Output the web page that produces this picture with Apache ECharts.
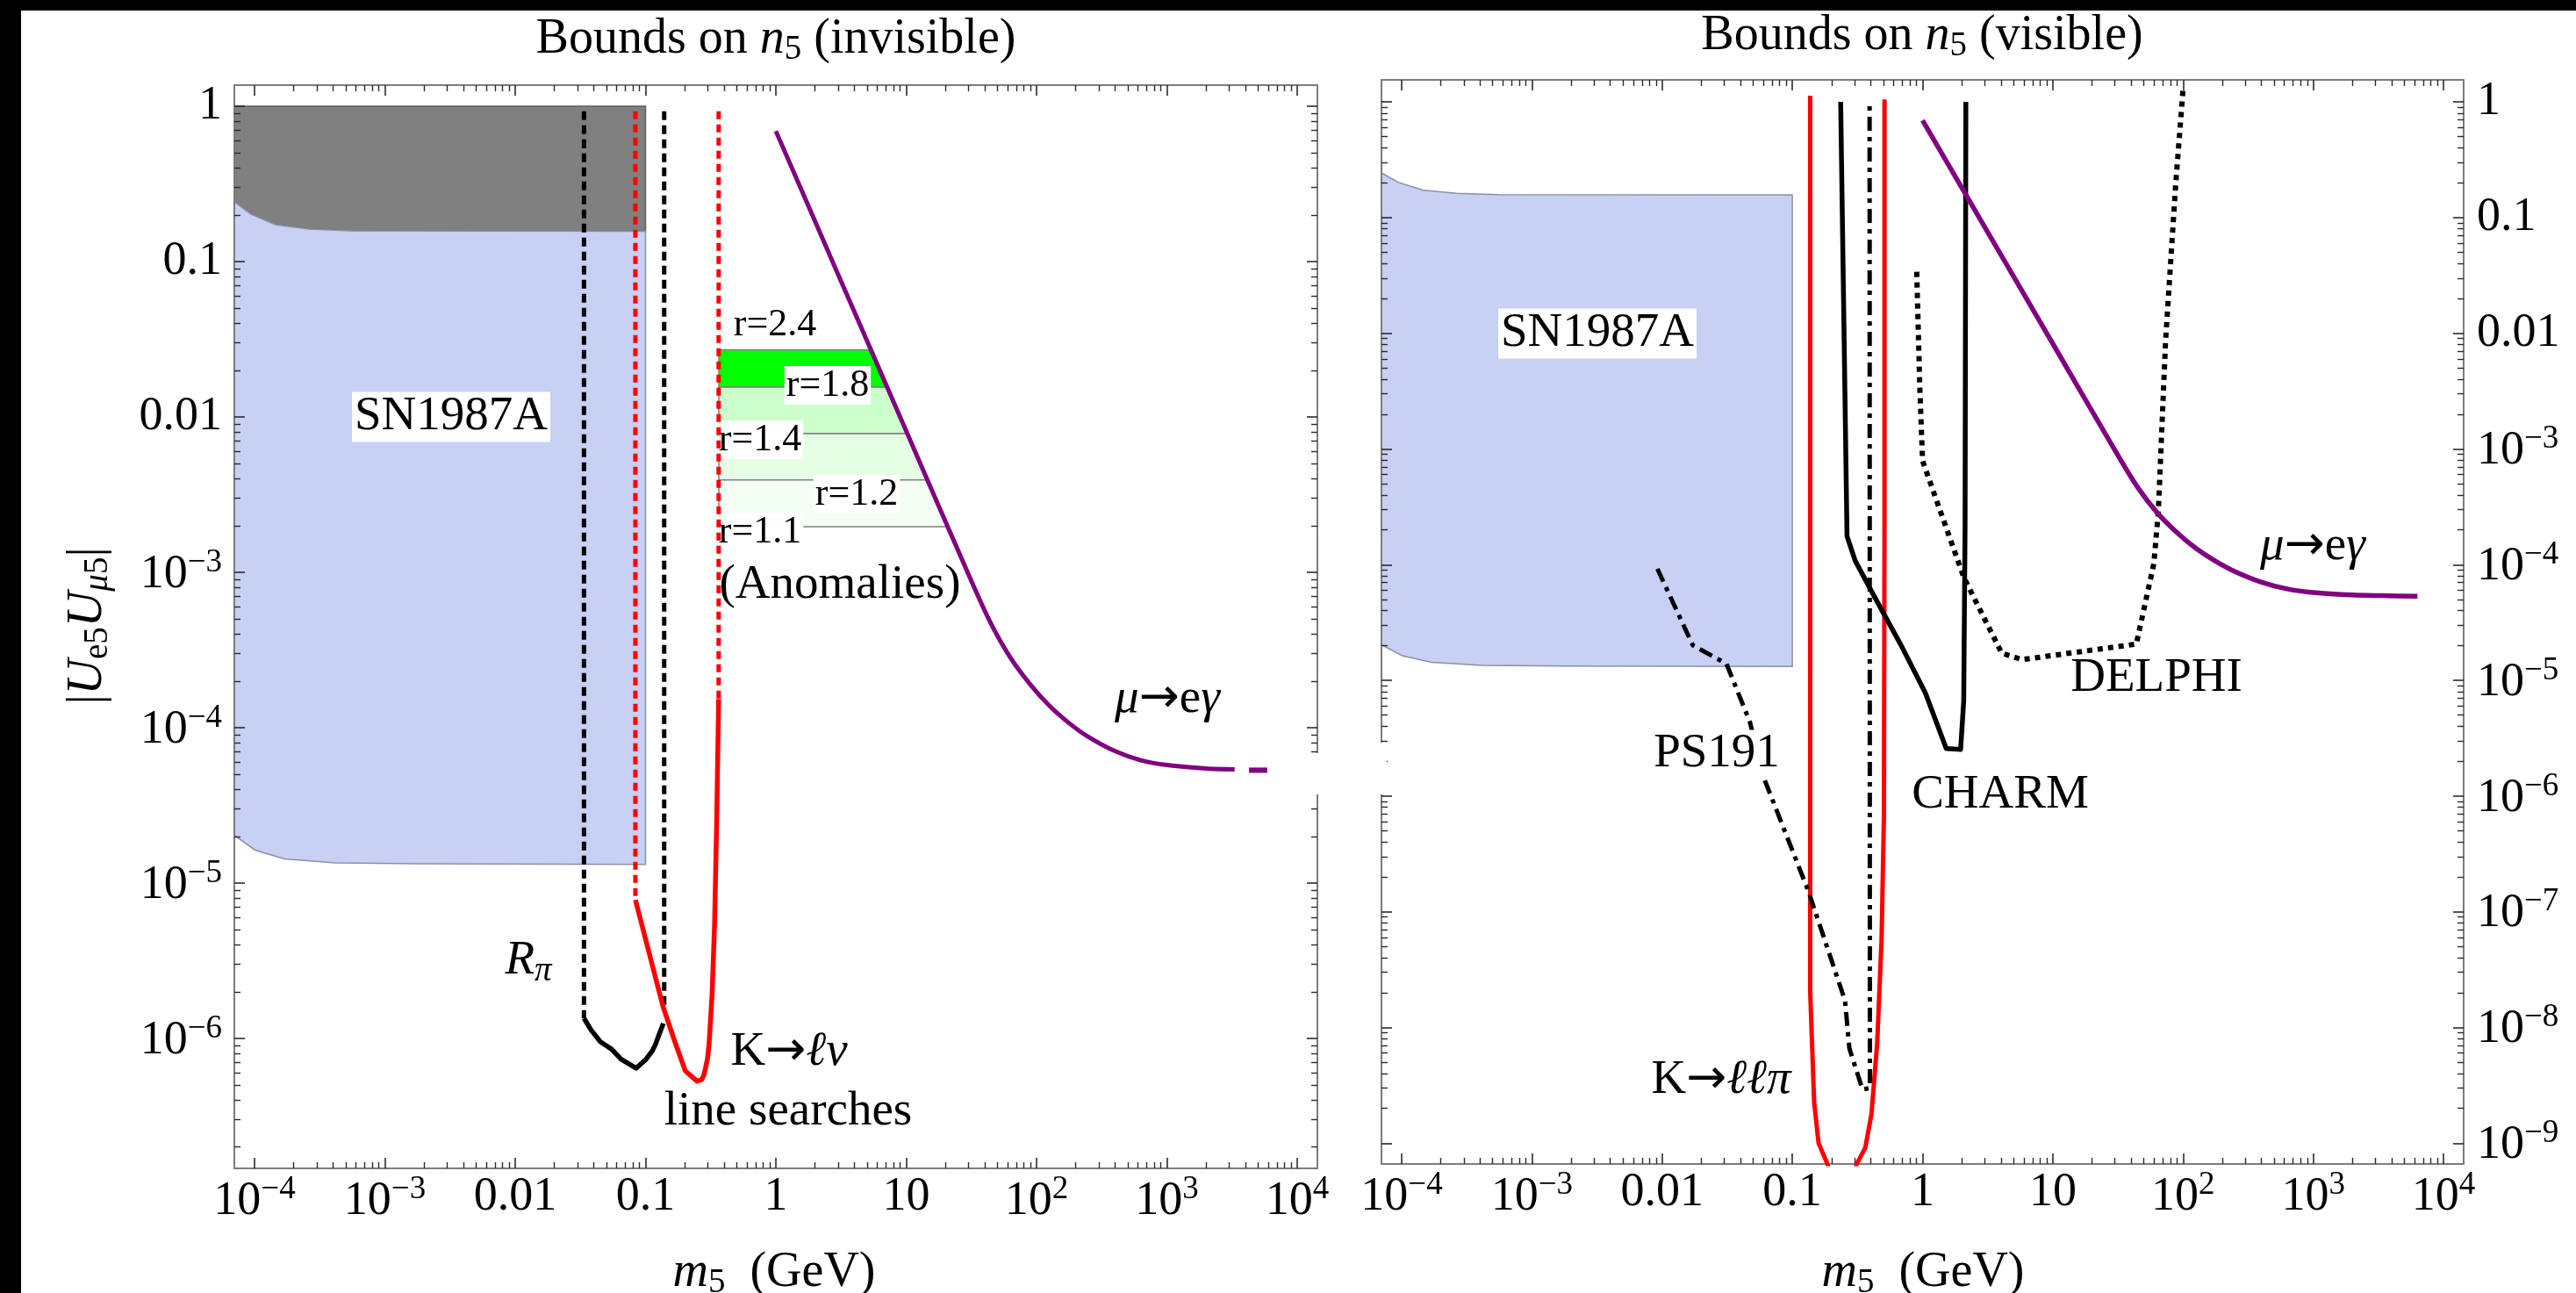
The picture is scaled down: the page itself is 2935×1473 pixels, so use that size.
<!DOCTYPE html>
<html>
<head>
<meta charset="utf-8">
<title>Bounds on n5</title>
<script src="https://cdn.jsdelivr.net/npm/echarts@6/dist/echarts.min.js"></script>
<style>
  html, body { margin: 0; padding: 0; background: #fff; }
  #chart { width: 2935px; height: 1473px; }
</style>
</head>
<body>
<div id="chart"></div>
<script>
// ---------------- tick values ----------------
const massTicks = [1e-4, 1e-3, 0.01, 0.1, 1, 10, 100, 1e3, 1e4];
const mixTicksInvisible = [1e-6, 1e-5, 1e-4, 1e-3, 0.01, 0.1, 1];
const mixTicksVisible = [1e-9, 1e-8, 1e-7, 1e-6, 1e-5, 1e-4, 1e-3, 0.01, 0.1, 1];

// ---------------- SN1987A excluded band (both panels) ----------------
const snUpperMass = [7.0e-5, 9.4e-5, 1.45e-4, 2.63e-4, 5.5e-4, 0.1];
const snUpperMix  = [0.243, 0.202, 0.173, 0.162, 0.158, 0.157];
const snLowerMass = [7.0e-5, 1.01e-4, 1.70e-4, 4.15e-4, 1.83e-3, 0.1];
const snLowerMix  = [2.03e-5, 1.63e-5, 1.43e-5, 1.35e-5, 1.33e-5, 1.32e-5];
const grayTopMix = 1;

// ---------------- mu -> e gamma ----------------
const megMass = [1, 3.16, 10, 31.6, 44.7, 63.1, 89.1, 126, 178, 251, 398, 631, 1000, 2000, 3310, 6310];
const megMix  = [0.692, 0.0750, 8.13e-3, 8.81e-4, 4.68e-4, 2.82e-4, 1.91e-4, 1.38e-4, 1.07e-4,
                 8.71e-5, 7.08e-5, 6.17e-5, 5.75e-5, 5.47e-5, 5.40e-5, 5.33e-5];
const megInvisibleMaxMass = 3310;
const megTailMass = [4270, 5890];
const megTailMix  = [5.33e-5, 5.33e-5];

// ---------------- anomaly contours r ----------------
const anomalyLevels = ['r=2.4', 'r=1.8', 'r=1.4', 'r=1.2', 'r=1.1'];
const anomalyEdges  = [0.0271, 0.01556, 7.82e-3, 3.94e-3, 1.97e-3];
const anomalyMinMass = 0.365;

// ---------------- R_pi ----------------
const rpiDashLeftMass  = [0.0337, 0.0337];
const rpiDashLeftMix   = [0.93, 1.35e-6];
const rpiDashRightMass = [0.139, 0.139];
const rpiDashRightMix  = [0.93, 1.52e-6];
const rpiMass = [0.0337, 0.0383, 0.0452, 0.0548, 0.0649, 0.0847, 0.101, 0.113, 0.119, 0.126, 0.137];
const rpiMix  = [1.35e-6, 1.13e-6, 9.5e-7, 8.55e-7, 7.35e-7, 6.44e-7, 7.35e-7, 8.36e-7, 9.12e-7, 1.04e-6, 1.25e-6];

// ---------------- K -> l nu line searches ----------------
const klnuDotLeftMass  = [0.0836, 0.0836];
const klnuDotLeftMix   = [0.93, 7.8e-6];
const klnuDotRightMass = [0.364, 0.364];
const klnuDotRightMix  = [0.93, 1.53e-4];
const klnuMass = [0.0836, 0.136, 0.168, 0.202, 0.220, 0.248, 0.270, 0.282, 0.299, 0.307, 0.324, 0.339, 0.351, 0.364];
const klnuMix  = [7.8e-6, 1.61e-6, 9.5e-7, 6.18e-7, 5.8e-7, 5.31e-7, 5.43e-7, 5.92e-7, 7.43e-7, 9.12e-7, 1.91e-6, 5.64e-6, 2.38e-5, 1.53e-4];

// ---------------- visible decays ----------------
const kllpiMass = [0.137, 0.137, 0.147, 0.159, 0.186, 0.21, 0.28, 0.312, 0.363, 0.405, 0.448, 0.484, 0.505, 0.51, 0.51];
const kllpiMix  = [1.13, 2.09e-8, 2.26e-9, 1.0e-9, 6.6e-10, 4e-10, 4e-10, 6.6e-10, 9.1e-10, 1.78e-9, 7.2e-9, 5.6e-8, 6.6e-7, 2.1e-4, 1.05];

const charmMass = [0.235, 0.263, 0.304, 0.415, 0.697, 1.05, 1.52, 1.96, 2.07, 2.12, 2.15];
const charmMix  = [1.0, 1.76e-4, 1.08e-4, 5.61e-5, 1.93e-5, 7.8e-6, 2.57e-6, 2.53e-6, 6.6e-6, 2.09e-4, 1.0];

const ps191Mass = [9.2e-3, 0.0172, 0.0312, 0.0471, 0.0611, 0.133, 0.254, 0.274, 0.346, 0.394, 0.392];
const ps191Mix  = [9.2e-5, 2.01e-5, 1.39e-5, 4.39e-6, 1.39e-6, 1.5e-7, 1.7e-8, 6.6e-9, 2.9e-9, 3.0e-9, 1.0];

const delphiMass = [0.902, 0.951, 1.0, 1.36, 2.07, 4.05, 5.81, 43.8, 59.7, 64.6, 73.5, 87.9, 100];
const delphiMix  = [0.034, 3.58e-3, 7.9e-4, 2.96e-4, 7.8e-5, 1.72e-5, 1.51e-5, 2.06e-5, 1.02e-4, 2.84e-4, 8.7e-3, 0.195, 1.27];

// ---------------- styling ----------------
const SERIF = '"Liberation Serif", "Times New Roman", Times, serif';
const ARROW_FAMILY = '"DejaVu Sans", sans-serif';
const FRAME = '#7c7c7c';
const TICK = '#2a2a2a';
const RED = '#ff0000';
const PURPLE = '#800080';
const SN_BLUE = '#c8d0f4';
const BAND_FILL = ['#00ff00', '#ccffcc', '#e5ffe5', '#f2fff2'];

const pairs = (ms, us) => ms.map((m, i) => [m, us[i]]);

function minorTicks(dLo, dHi, lo, hi) {
  const out = [];
  for (let d = dLo; d <= dHi; d++) {
    for (let k = 2; k <= 9; k++) {
      const v = k * Math.pow(10, d);
      if (v > lo && v < hi) out.push(v);
    }
  }
  return out;
}

function powerLabel(v) {
  const e = Math.round(Math.log10(v));
  if (e >= -2 && e <= 1) return '{b|' + ['0.01', '0.1', '1', '10'][e + 2] + '}';
  return '{b|10}{s|' + (e < 0 ? '\u2212' + (-e) : String(e)) + '}';
}
const tickRich = {
  b: { fontFamily: SERIF, fontSize: 54, color: '#000', verticalAlign: 'bottom' },
  s: { fontFamily: SERIF, fontSize: 37, color: '#000', verticalAlign: 'bottom', padding: [0, 0, 22, 0] }
};

function axisSet(grid, lo, hi, majors, minors, labelSide, margin) {
  const other = { bottom: 'top', top: 'bottom', left: 'right', right: 'left' }[labelSide];
  const base = {
    type: 'log', logBase: 10, gridIndex: grid, min: lo, max: hi, z: 2,
    splitLine: { show: false }, axisPointer: { show: false }, silent: true
  };
  const lineOn = { show: true, onZero: false, lineStyle: { color: FRAME, width: 2 } };
  const major = { show: true, inside: true, length: 12, customValues: majors, lineStyle: { color: TICK, width: 1.6 } };
  const minor = { show: true, inside: true, length: 7, customValues: minors, lineStyle: { color: TICK, width: 1.4 } };
  return [
    Object.assign({}, base, {
      position: labelSide, axisLine: lineOn, axisTick: major,
      axisLabel: { show: true, customValues: majors, formatter: powerLabel, rich: tickRich,
                   margin: margin, color: '#000', fontFamily: SERIF, fontSize: 54 }
    }),
    Object.assign({}, base, { position: labelSide, axisLine: { show: false }, axisTick: minor, axisLabel: { show: false } }),
    Object.assign({}, base, { position: other, axisLine: lineOn, axisTick: major, axisLabel: { show: false } }),
    Object.assign({}, base, { position: other, axisLine: { show: false }, axisTick: minor, axisLabel: { show: false } })
  ];
}

// plot ranges
const massLo = Math.pow(10, -4.155), massHi = Math.pow(10, 4.155);
const invLo = Math.pow(10, -6.836), invHi = Math.pow(10, 0.136);
const visLo = Math.pow(10, -9.18), visHi = Math.pow(10, 0.19);
const massMinor = minorTicks(-4, 3, massLo, massHi);

const xAxes = [
  ...axisSet(0, massLo, massHi, massTicks, massMinor, 'bottom', 6),
  ...axisSet(1, massLo, massHi, massTicks, massMinor, 'bottom', 6)
];
const yAxes = [
  ...axisSet(0, invLo, invHi, mixTicksInvisible, minorTicks(-7, -1, invLo, invHi), 'left', 14),
  ...axisSet(1, visLo, visHi, mixTicksVisible, minorTicks(-9, -1, 1e-9 * 0.999, visHi), 'right', 15)
];

// ---------------- series helpers ----------------
function lineSeries(axis, ms, us, style, z) {
  return {
    type: 'line', xAxisIndex: axis, yAxisIndex: axis, data: pairs(ms, us),
    symbol: 'none', silent: true, clip: true, z: z || 3,
    lineStyle: Object.assign({ cap: 'butt', join: 'round' }, style)
  };
}
function polygonSeries(axis, pts, style, z) {
  return {
    type: 'custom', xAxisIndex: axis, yAxisIndex: axis, data: pts, silent: true, z: z || 1,
    renderItem: function (params, api) {
      if (params.dataIndex !== 0) return null;
      return { type: 'polygon', shape: { points: pts.map(p => api.coord(p)) }, style: style };
    }
  };
}
// mass at which the mu -> e gamma curve reaches a given mixing (log interpolation)
function megMassAt(u) {
  const lu = Math.log10(u);
  for (let i = 0; i < megMass.length - 1; i++) {
    const a = Math.log10(megMix[i]), b = Math.log10(megMix[i + 1]);
    if (lu <= a && lu >= b) {
      const t = (lu - a) / (b - a);
      const la = Math.log10(megMass[i]), lb = Math.log10(megMass[i + 1]);
      return Math.pow(10, la + t * (lb - la));
    }
  }
  return megMass[0];
}

const snUpper = pairs(snUpperMass, snUpperMix);
const snLower = pairs(snLowerMass, snLowerMix);
const snBand = snUpper.concat(snLower.slice().reverse());
const grayBand = [[snUpperMass[0], grayTopMix], [snUpperMass[snUpperMass.length - 1], grayTopMix]]
  .concat(snUpper.slice().reverse());

const series = [];
// left panel: invisible decays
series.push(polygonSeries(0, grayBand, { fill: '#808080', stroke: '#5e5e5e', lineWidth: 1.5 }));
series.push(polygonSeries(0, snBand, { fill: SN_BLUE, stroke: '#8a8fa8', lineWidth: 1.5 }));
for (let k = 0; k < anomalyEdges.length - 1; k++) {
  const top = anomalyEdges[k], bot = anomalyEdges[k + 1];
  series.push(polygonSeries(0,
    [[anomalyMinMass, top], [megMassAt(top), top], [megMassAt(bot), bot], [anomalyMinMass, bot]],
    { fill: BAND_FILL[k], stroke: '#7f7f7f', lineWidth: 1.5 }));
}
series.push(lineSeries(0, rpiDashLeftMass, rpiDashLeftMix, { color: '#000', width: 5, type: [10, 6] }));
series.push(lineSeries(0, rpiDashRightMass, rpiDashRightMix, { color: '#000', width: 5, type: [10, 6] }));
series.push(lineSeries(0, rpiMass, rpiMix, { color: '#000', width: 5.5 }));
series.push(lineSeries(0, klnuDotLeftMass, klnuDotLeftMix, { color: RED, width: 5, type: [9, 6] }));
series.push(lineSeries(0, klnuDotRightMass, klnuDotRightMix, { color: RED, width: 5, type: [9, 6] }));
series.push(lineSeries(0, klnuMass, klnuMix, { color: RED, width: 5.5 }));
const megLeftMass = megMass.filter(m => m <= megInvisibleMaxMass);
series.push(Object.assign(lineSeries(0, megLeftMass, megMix.slice(0, megLeftMass.length),
  { color: PURPLE, width: 5 }), { smooth: 0.25 }));
series.push(lineSeries(0, megTailMass, megTailMix, { color: PURPLE, width: 6 }));

// right panel: visible decays
series.push(polygonSeries(4, snBand, { fill: SN_BLUE, stroke: '#8a8fa8', lineWidth: 1.5 }));
series.push(lineSeries(4, kllpiMass, kllpiMix, { color: RED, width: 5 }));
series.push(lineSeries(4, charmMass, charmMix, { color: '#000', width: 5.5 }));
series.push(lineSeries(4, ps191Mass, ps191Mix, { color: '#000', width: 5, type: [16, 7, 5, 7] }));
series.push(lineSeries(4, delphiMass, delphiMix, { color: '#000', width: 6, type: [6, 6] }));
series.push(Object.assign(lineSeries(4, megMass, megMix, { color: PURPLE, width: 5.5 }), { smooth: 0.25 }));

// ---------------- text ----------------
// Each label is a run of pieces: [text, kind], kind: b upright, i italic,
// s subscript, si italic subscript, a arrow. Pieces are measured with the
// same font strings they are drawn with, then laid out left to right.
const measureCtx = document.createElement('canvas').getContext('2d');
function pieceFont(kind, size) {
  const sub = kind === 's' || kind === 'si';
  const px = sub ? Math.round(size * 0.7) : size;
  const italic = kind === 'i' || kind === 'si';
  const fam = kind === 'a' ? ARROW_FAMILY : SERIF;
  return (italic ? 'italic ' : 'normal ') + 'normal ' + px + 'px ' + fam;
}
function textRun(cx, cy, pieces, size, opts) {
  opts = opts || {};
  const z = opts.z || 60;
  let w = 0;
  const laid = pieces.map(([t, kind]) => {
    const font = pieceFont(kind, size);
    measureCtx.font = font;
    const pw = measureCtx.measureText(t).width;
    const item = { t: t, font: font, x: w, dy: (kind === 's' || kind === 'si') ? size * 0.215 : 0 };
    w += pw;
    return item;
  });
  const children = [];
  if (opts.box) {
    const [pt, pr, pb, pl] = opts.box;
    children.push({
      type: 'rect', z: z - 0.1, silent: true,
      shape: { x: -w / 2 - pl, y: -size / 2 - pt, width: w + pl + pr, height: size + pt + pb },
      style: { fill: '#fff' }
    });
  }
  laid.forEach(p => children.push({
    type: 'text', z: z, silent: true, x: -w / 2 + p.x, y: p.dy,
    style: { text: p.t, font: p.font, fill: '#000', align: 'left', verticalAlign: 'middle' }
  }));
  return { type: 'group', x: cx, y: cy, rotation: opts.rotation || 0, silent: true, children: children };
}

const graphics = [
  // outer dark edges of the page
  { type: 'rect', z: 70, silent: true, shape: { x: 0, y: 0, width: 2935, height: 12 }, style: { fill: '#000' } },
  { type: 'rect', z: 70, silent: true, shape: { x: 0, y: 0, width: 24, height: 1473 }, style: { fill: '#000' } },
  // small breaks in the facing frame edges
  { type: 'rect', z: 65, silent: true, shape: { x: 1494, y: 858, width: 12, height: 47 }, style: { fill: '#fff' } },
  { type: 'rect', z: 65, silent: true, shape: { x: 1568, y: 846, width: 12, height: 59 }, style: { fill: '#fff' } },

  // titles
  textRun(884, 45, [['Bounds on ', 'b'], ['n', 'i'], ['5', 's'], [' (invisible)', 'b']], 56),
  textRun(2190, 41, [['Bounds on ', 'b'], ['n', 'i'], ['5', 's'], [' (visible)', 'b']], 56),

  // axis names
  textRun(882, 1450, [['m', 'i'], ['5', 's'], ['  (GeV)', 'b']], 56),
  textRun(2191, 1450, [['m', 'i'], ['5', 's'], ['  (GeV)', 'b']], 56),
  textRun(100, 713, [['|', 'b'], ['U', 'i'], ['e5', 's'], ['U', 'i'], ['\u03bc', 'si'], ['5', 's'], ['|', 'b']], 56,
          { rotation: Math.PI / 2 }),

  // left panel annotations
  textRun(514, 475, [['SN1987A', 'b']], 55, { box: [1, 3, 1, 3] }),
  textRun(883, 370, [[anomalyLevels[0], 'b']], 44),
  textRun(943, 439, [[anomalyLevels[1], 'b']], 44, { box: [0, 2, 0, 2], z: 2.5 }),
  textRun(866, 501, [[anomalyLevels[2], 'b']], 44, { box: [0, 2, 0, 2], z: 2.5 }),
  textRun(976, 563, [[anomalyLevels[3], 'b']], 44, { box: [0, 2, 0, 2], z: 2.5 }),
  textRun(866, 606, [[anomalyLevels[4], 'b']], 44, { box: [0, 2, 0, 2], z: 2.5 }),
  textRun(957, 667, [['(Anomalies)', 'b']], 55),
  textRun(1330, 797, [['\u03bc', 'i'], ['\u2192', 'a'], ['e', 'b'], ['\u03b3', 'i']], 55),
  textRun(602, 1095, [['R', 'i'], ['\u03c0', 'si']], 55),
  textRun(899, 1199, [['K', 'b'], ['\u2192', 'a'], ['\u2113\u03bd', 'i']], 55),
  textRun(898, 1267, [['line searches', 'b']], 55),

  // right panel annotations
  textRun(1820, 380, [['SN1987A', 'b']], 55, { box: [1, 3, 1, 3] }),
  textRun(1956, 859, [['PS191', 'b']], 55, { box: [0, 3, 0, 3] }),
  textRun(2279, 906, [['CHARM', 'b']], 55),
  textRun(2457, 773, [['DELPHI', 'b']], 55),
  textRun(1961, 1231, [['K', 'b'], ['\u2192', 'a'], ['\u2113\u2113\u03c0', 'i']], 55),
  textRun(2635, 623, [['\u03bc', 'i'], ['\u2192', 'a'], ['e', 'b'], ['\u03b3', 'i']], 55)
];

const option = {
  animation: false,
  backgroundColor: '#ffffff',
  grid: [
    { left: 267, top: 97, width: 1234, height: 1234, outerBoundsMode: 'none' },
    { left: 1574, top: 91, width: 1233, height: 1235, outerBoundsMode: 'none' }
  ],
  xAxis: xAxes,
  yAxis: yAxes,
  series: series,
  graphic: { elements: graphics }
};

const chart = echarts.init(document.getElementById('chart'), null, { renderer: 'canvas' });
chart.setOption(option);
</script>
</body>
</html>
